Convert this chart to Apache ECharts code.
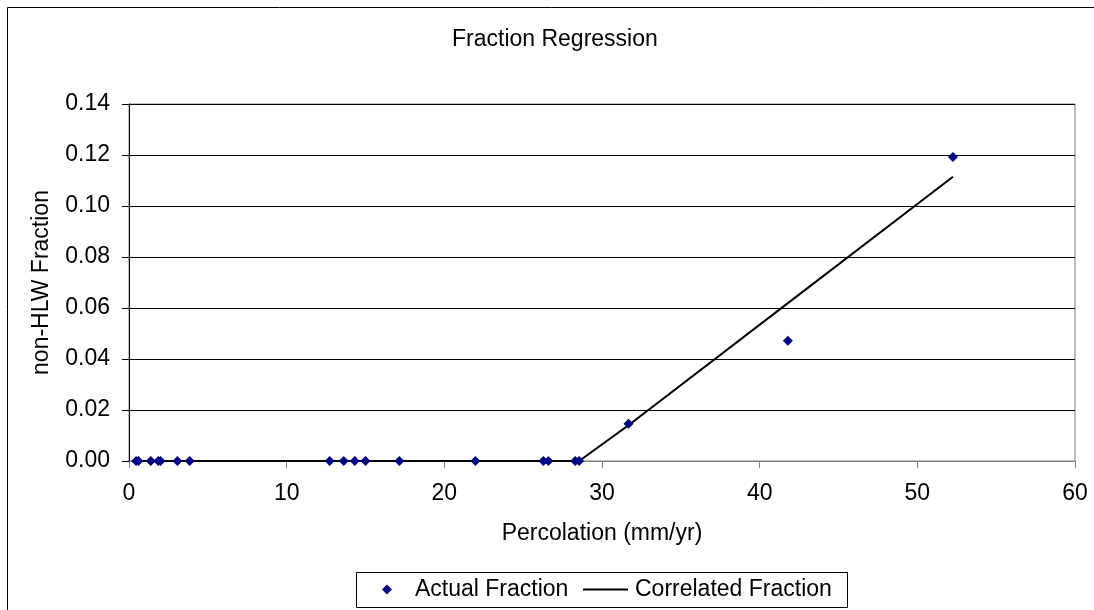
<!DOCTYPE html>
<html>
<head>
<meta charset="utf-8">
<script src="https://cdn.jsdelivr.net/npm/echarts@6/dist/echarts.min.js"></script>
<style>
html,body{margin:0;padding:0;background:#fff;}
#chart{width:1094px;height:610px;}
</style>
</head>
<body>
<div id="chart"></div>
<script>
// Data
const percolation = [0.45, 0.6, 1.38, 1.85, 2.0, 3.07, 3.85, 12.73, 13.62, 14.32, 15.0, 17.15, 21.97, 26.28, 26.6, 28.3, 28.55, 31.68, 41.79, 52.26];
const actualFraction = [0, 0, 0, 0, 0, 0, 0, 0, 0, 0, 0, 0, 0, 0, 0, 0, 0, 0.0146, 0.0472, 0.1192];
const correlatedFraction = [0, 0, 0, 0, 0, 0, 0, 0, 0, 0, 0, 0, 0, 0, 0, 0, 0, 0.0140, 0.0619, 0.1115];
const xTicks = { min: 0, max: 60, interval: 10 };
const yTicks = { min: 0, max: 0.14, interval: 0.02 };

const FONT = '"Liberation Sans", Arial, sans-serif';
const chart = echarts.init(document.getElementById('chart'), null, { renderer: 'canvas' });

const actualPairs = percolation.map((x, i) => [x, actualFraction[i]]);
const correlatedPairs = percolation.map((x, i) => [x, correlatedFraction[i]]);

chart.setOption({
  animation: false,
  backgroundColor: '#ffffff',
  textStyle: { fontFamily: FONT },
  title: {
    text: 'Fraction Regression',
    left: 452, top: 28, padding: 0,
    textStyle: { fontFamily: FONT, fontSize: 23, fontWeight: 'normal', color: '#000' }
  },
  grid: {
    left: 129, right: 19, top: 104, bottom: 149,
    show: true, borderColor: '#808080', borderWidth: 1, backgroundColor: 'transparent'
  },
  xAxis: {
    type: 'value',
    min: xTicks.min, max: xTicks.max, interval: xTicks.interval,
    name: 'Percolation (mm/yr)',
    nameLocation: 'middle', nameGap: 61,
    nameTextStyle: { fontFamily: FONT, fontSize: 23, color: '#000' },
    axisLine: { show: true, onZero: false, lineStyle: { color: '#808080', width: 1 } },
    axisTick: { show: true, inside: false, length: 7, lineStyle: { color: '#808080' } },
    axisLabel: { margin: 21, fontFamily: FONT, fontSize: 23, color: '#000' },
    splitLine: { show: false }
  },
  yAxis: {
    type: 'value',
    min: yTicks.min, max: yTicks.max, interval: yTicks.interval,
    name: 'non-HLW Fraction',
    nameLocation: 'middle', nameGap: 76,
    nameTextStyle: { fontFamily: FONT, fontSize: 23, color: '#000' },
    axisLine: { show: true, onZero: false, lineStyle: { color: '#000', width: 1 } },
    axisTick: { show: true, inside: false, length: 7, lineStyle: { color: '#000' } },
    axisLabel: { margin: 19, fontFamily: FONT, fontSize: 23, color: '#000',
      formatter: v => v.toFixed(2) },
    splitLine: { show: true, lineStyle: { color: '#000', width: 1 } }
  },
  legend: [
    {
      data: [{ name: 'Actual Fraction', icon: 'diamond' }],
      left: 382, top: 578, padding: 0,
      itemWidth: 10, itemHeight: 10, itemGap: 0,
      textStyle: { fontFamily: FONT, fontSize: 23, color: '#000', padding: [0, 0, 0, 18] },
      selectedMode: false
    },
    {
      data: [{ name: 'Correlated Fraction', icon: 'rect' }],
      left: 583, top: 578, padding: 0,
      itemWidth: 45, itemHeight: 2, itemGap: 0,
      textStyle: { fontFamily: FONT, fontSize: 23, color: '#000', padding: [0, 0, 0, 2] },
      selectedMode: false
    }
  ],
  graphic: [
    { type: 'rect', silent: true, z: 100,
      shape: { x: 7.5, y: 7.5, width: 1200, height: 1200 },
      style: { fill: 'none', stroke: '#000', lineWidth: 1 } },
    { type: 'rect', silent: true, z: 100,
      shape: { x: 356.5, y: 572.5, width: 491, height: 35 },
      style: { fill: 'none', stroke: '#000', lineWidth: 1 } }
  ],
  series: [
    {
      name: 'Correlated Fraction',
      type: 'line',
      data: correlatedPairs,
      showSymbol: false, symbol: 'none',
      lineStyle: { color: '#000', width: 2 },
      itemStyle: { color: '#000' },
      z: 3
    },
    {
      name: 'Actual Fraction',
      type: 'scatter',
      data: actualPairs,
      symbol: 'diamond', symbolSize: 10,
      itemStyle: { color: '#000080', opacity: 1 },
      z: 5
    }
  ]
});
</script>
</body>
</html>
